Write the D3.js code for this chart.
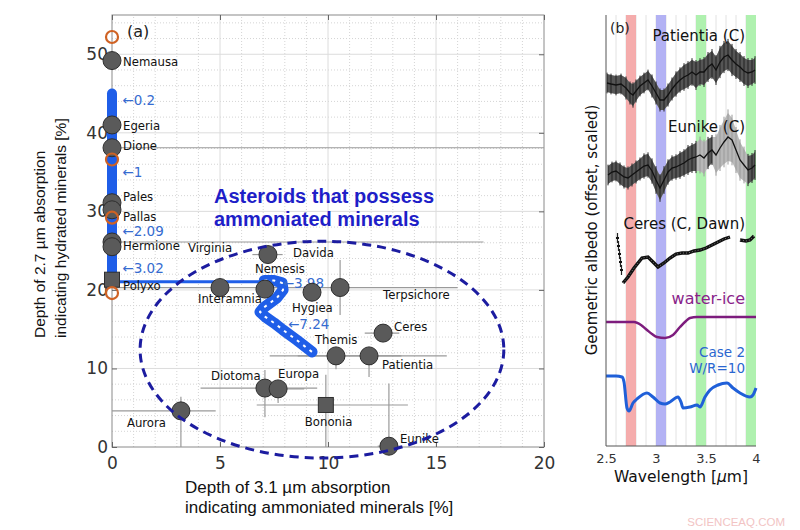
<!DOCTYPE html>
<html>
<head>
<meta charset="utf-8">
<script src="https://cdn.jsdelivr.net/npm/d3@7"></script>
<style>
  body { margin: 0; background: #fff; }
  text { font-family: "DejaVu Sans", sans-serif; }
</style>
</head>
<body>
<script>
// ---------- panel (a) data ----------
var names   = ["Nemausa","Egeria","Dione","Pales","Pallas","Hermione","Virginia","Polyxo","Davida","Interamnia","Nemesis","Hygiea","Terpsichore","Ceres","Themis","Patientia","Diotoma","Europa","Bononia","Aurora","Eunike"];
var depth31 = [0,0,0,0,0,0,0,0,7.22,5.0,7.08,9.26,10.56,12.55,10.37,11.9,7.08,7.69,9.9,3.19,12.82];
var depth27 = [49.2,41.0,38.1,31.1,30.2,26.1,25.5,21.3,24.5,20.3,20.1,19.7,20.3,14.5,11.6,11.6,7.5,7.4,5.35,4.6,0.1];
var squares = ["Polyxo","Bononia"];
// error ranges [lo, hi], null = none
var err31 = [null,null,[0,20],null,null,[0,17.2],null,null,[6.5,7.9],null,null,null,[0,16.0],[11.7,13.3],[7.3,13.4],[8.6,15.5],[4.1,9.5],[7.2,8.9],[6.7,13.7],[0,4.8],[12.3,13.4]];
var err27 = [null,null,null,null,null,null,null,null,null,null,null,null,[16.8,23.8],[13.8,15.3],[9.9,12.3],[8.9,12.7],[3.8,9.8],[5.6,8.5],[0,9.2],[0,6.4],[0,8.1]];

// orange open markers on the hydrated axis
var ringY = [52.2, 36.6, 29.2, 19.6];

// model track (water/rock ratio)
var columnY = [45.0, 21.1];
var bridgeX = [0, 7.2], bridgeY = 21.05;
var trackX = [7.05,7.5,7.87,7.92,7.64,7.0,6.85,7.08,7.5,7.92,8.56,9.26];
var trackY = [21.2,21.2,20.9,20.0,19.0,17.7,17.2,16.6,15.8,14.9,13.6,12.1];
var wrText = ["\u21900.2","\u21901","\u21902.09","\u21903.02","\u21903.98","\u21907.24"];
var wrX    = [0.48,0.48,0.48,0.48,7.9,8.15];
var wrY    = [44.1,35.0,27.5,22.8,20.8,15.6];

// region of ammoniated asteroids
var regionCx = 9.72, regionCy = 12.4, regionRx = 8.42, regionRy = 13.8;

// ---------- panel (b) data ----------
var patLam = [2.51,2.55,2.60,2.65,2.70,2.74,2.77,2.80,2.84,2.88,2.92,2.96,3.00,3.04,3.08,3.12,3.16,3.20,3.24,3.28,3.32,3.36,3.40,3.44,3.48,3.52,3.56,3.60,3.64,3.68,3.72,3.76,3.80,3.84,3.88,3.92,3.96,3.99];
var patVal = [36.3,36.2,36.1,36.2,35.8,35.3,35.1,35.5,36.0,36.3,36.6,36.0,35.3,34.6,34.6,35.1,35.7,36.2,36.6,36.9,37.1,37.4,37.1,37.4,37.4,37.9,38.2,37.6,38.4,38.9,39.1,38.6,38.2,37.9,37.5,37.3,37.4,37.6];
var patErr = [0.9,0.9,0.9,0.9,1.0,1.0,1.1,1.0,0.9,0.9,0.9,1.0,1.0,1.0,1.0,1.0,1.0,1.1,1.1,1.2,1.2,1.2,1.3,1.2,1.3,1.3,1.3,1.3,1.4,1.4,1.4,1.4,1.3,1.3,1.3,1.3,1.2,1.2];

var eunLam = [2.52,2.56,2.60,2.64,2.68,2.72,2.76,2.80,2.84,2.88,2.92,2.96,3.00,3.04,3.08,3.12,3.16,3.20,3.24,3.28,3.32,3.36,3.40,3.44,3.48,3.52,3.56,3.60,3.64,3.68,3.72,3.76,3.80,3.84,3.88,3.92,3.96,3.99];
var eunVal = [27.1,27.4,27.5,27.2,26.9,26.8,27.1,27.4,27.7,28.0,28.1,27.5,26.6,25.8,26.6,27.4,27.8,27.9,28.1,28.3,28.6,28.8,28.9,29.1,28.8,29.3,29.6,29.1,29.8,30.4,30.9,30.6,29.6,28.6,28.1,27.6,27.8,28.1];
var eunErr = [0.9,0.9,0.9,1.0,1.0,1.0,1.0,1.0,1.0,1.1,1.1,1.1,1.2,1.2,1.2,1.1,1.1,1.1,1.2,1.2,1.3,1.3,1.4,1.6,1.6,1.4,1.3,1.8,2.0,2.2,2.4,2.2,2.0,1.8,1.6,1.4,1.3,1.3];
var eunGood = [1,1,1,1,1,1,1,1,1,1,1,1,1,1,1,1,1,1,1,1,1,1,1,0,0,1,1,0,0,0,0,0,0,0,0,1,1,1];

var cerPtLam = [2.615,2.625,2.635,2.645,2.655];
var cerPtVal = [20.8,20.0,19.2,18.4,17.6];
var cerLam = [2.67,2.72,2.78,2.86,2.92,2.97,3.02,3.08,3.14,3.20,3.26,3.32,3.38,3.44,3.50,3.56,3.62,3.68,3.74];
var cerVal = [16.3,16.9,17.8,18.8,18.9,18.4,17.9,18.3,18.8,19.2,19.3,19.3,19.5,19.6,19.8,20.1,20.4,20.7,20.9];
var cerLam2 = [3.84,3.90,3.94,3.98];
var cerVal2 = [20.6,20.5,20.6,21.0];

var iceLam = [2.50,2.78,2.85,2.91,2.96,3.01,3.09,3.17,3.24,3.30,3.34,3.41,4.00];
var iceVal = [12.4,12.4,12.1,11.6,11.2,10.9,10.8,11.1,11.9,12.5,12.8,12.9,12.9];

var caseLam = [2.50,2.60,2.66,2.68,2.71,2.73,2.77,2.81,2.91,2.97,3.04,3.09,3.14,3.22,3.25,3.27,3.34,3.41,3.44,3.49,3.54,3.62,3.71,3.77,3.84,3.94,3.97,4.00];
var caseVal = [7.0,7.0,6.9,6.4,3.8,3.5,4.3,4.7,5.3,4.9,4.3,4.2,4.4,4.9,4.4,3.8,3.9,4.1,3.9,4.9,5.6,6.1,6.3,5.8,5.3,4.9,5.1,5.8];

var bandLo    = [2.70, 3.00, 3.40, 3.90];
var bandHi    = [2.80, 3.10, 3.50, 4.00];
var bandColor = ["#f4a3a3", "#abaaf3", "#a6f0a6", "#a6f0a6"];

// label placement (pixel offsets from the marker)
var labelOff = {
  Nemausa:[11,1], Egeria:[11,1], Dione:[11,-2], Pales:[11,-6], Pallas:[11,7],
  Hermione:[11,4], Virginia:[76,1], Polyxo:[11,6], Davida:[25,-2], Nemesis:[-10,-20],
  Interamnia:[-22,11], Hygiea:[-20,16], Terpsichore:[43,7], Ceres:[11,-6],
  Themis:[-21,-16], Patientia:[13,9], Diotoma:[-54,-12], Europa:[0,-15],
  Bononia:[-21,17], Aurora:[-54,12], Eunike:[11,-7]
};

var svg = d3.select("body").append("svg")
  .attr("width", 800).attr("height", 530);

// =================== panel (a) ===================
var x = d3.scaleLinear().domain([0, 20]).range([112, 544]);
var y = d3.scaleLinear().domain([0, 55]).range([447, 15]);

var ga = svg.append("g");

// minor dotted grid
ga.selectAll(".mx").data(d3.range(1, 20).filter(function(d){ return d % 5 != 0; }))
  .enter().append("line")
  .attr("x1", function(d){ return x(d); }).attr("x2", function(d){ return x(d); })
  .attr("y1", y(0)).attr("y2", y(55))
  .attr("stroke", "#d4d4d4").attr("stroke-dasharray", "1,2");
ga.selectAll(".my").data(d3.range(2, 55, 2).filter(function(d){ return d % 10 != 0; }))
  .enter().append("line")
  .attr("x1", x(0)).attr("x2", x(20))
  .attr("y1", function(d){ return y(d); }).attr("y2", function(d){ return y(d); })
  .attr("stroke", "#d4d4d4").attr("stroke-dasharray", "1,2");
// major grid
ga.selectAll(".gx").data([5, 10, 15]).enter().append("line")
  .attr("x1", function(d){ return x(d); }).attr("x2", function(d){ return x(d); })
  .attr("y1", y(0)).attr("y2", y(55))
  .attr("stroke", "#dcdcdc");
ga.selectAll(".gy").data([10, 20, 30, 40, 50]).enter().append("line")
  .attr("x1", x(0)).attr("x2", x(20))
  .attr("y1", function(d){ return y(d); }).attr("y2", function(d){ return y(d); })
  .attr("stroke", "#dcdcdc");

// box + inward ticks
ga.append("rect").attr("x", x(0)).attr("y", y(55))
  .attr("width", x(20) - x(0)).attr("height", y(0) - y(55))
  .attr("fill", "none").attr("stroke", "#8a8a8a");

function styleAxis(g) {
  g.select(".domain").remove();
  g.selectAll(".tick line").attr("stroke", "#666");
  g.selectAll(".tick text").attr("fill", "#333").style("font-size", "17px")
    .style("font-family", "DejaVu Sans, sans-serif");
}
ga.append("g").attr("transform", "translate(0," + y(0) + ")")
  .call(d3.axisBottom(x).tickValues([0,5,10,15,20]).tickSize(-5).tickPadding(10))
  .call(styleAxis);
ga.append("g").attr("transform", "translate(0," + y(55) + ")")
  .call(d3.axisTop(x).tickValues([0,5,10,15,20]).tickSize(-5).tickFormat(""))
  .call(styleAxis);
ga.append("g").attr("transform", "translate(" + x(0) + ",0)")
  .call(d3.axisLeft(y).tickValues([0,10,20,30,40,50]).tickSize(-5).tickPadding(4))
  .call(styleAxis);
ga.append("g").attr("transform", "translate(" + x(20) + ",0)")
  .call(d3.axisRight(y).tickValues([0,10,20,30,40,50]).tickSize(-5).tickFormat(""))
  .call(styleAxis);

// error bars
var idx = d3.range(names.length);
ga.selectAll(".ex").data(idx.filter(function(i){ return err31[i]; })).enter().append("line")
  .attr("x1", function(i){ return x(err31[i][0]); })
  .attr("x2", function(i){ return x(err31[i][1]); })
  .attr("y1", function(i){ return y(depth27[i]); })
  .attr("y2", function(i){ return y(depth27[i]); })
  .attr("stroke", "#9a9a9a").attr("stroke-width", 1.2);
ga.selectAll(".ey").data(idx.filter(function(i){ return err27[i]; })).enter().append("line")
  .attr("x1", function(i){ return x(depth31[i]); })
  .attr("x2", function(i){ return x(depth31[i]); })
  .attr("y1", function(i){ return y(err27[i][0]); })
  .attr("y2", function(i){ return y(err27[i][1]); })
  .attr("stroke", "#9a9a9a").attr("stroke-width", 1.2);

// model track
var blue = "#1f5ee8";
ga.append("line")
  .attr("x1", x(bridgeX[0])).attr("x2", x(bridgeX[1]))
  .attr("y1", y(bridgeY)).attr("y2", y(bridgeY))
  .attr("stroke", blue).attr("stroke-width", 3);
ga.append("line")
  .attr("x1", x(0)).attr("x2", x(0))
  .attr("y1", y(columnY[0])).attr("y2", y(columnY[1]))
  .attr("stroke", blue).attr("stroke-width", 10).attr("stroke-linecap", "round");
var track = d3.line().x(function(d){ return x(d[0]); }).y(function(d){ return y(d[1]); });
var trackPts = trackX.map(function(v, i){ return [v, trackY[i]]; });
ga.append("path").attr("d", track(trackPts))
  .attr("fill", "none").attr("stroke", blue).attr("stroke-width", 11)
  .attr("stroke-linecap", "round").attr("stroke-linejoin", "round");
ga.append("path").attr("d", track(trackPts))
  .attr("fill", "none").attr("stroke", "#fff").attr("stroke-width", 2)
  .attr("stroke-dasharray", "3,5").attr("stroke-linejoin", "round");

ga.selectAll(".wr").data(wrText).enter().append("text")
  .attr("x", function(d, i){ return x(wrX[i]); })
  .attr("y", function(d, i){ return y(wrY[i]); })
  .attr("dy", "0.35em")
  .attr("fill", "#356bd0").style("font-size", "13.5px")
  .text(function(d){ return d; });

// asteroid markers
var pts = ga.selectAll(".pt").data(idx).enter();
pts.filter(function(i){ return squares.indexOf(names[i]) < 0; }).append("circle")
  .attr("cx", function(i){ return x(depth31[i]); })
  .attr("cy", function(i){ return y(depth27[i]); })
  .attr("r", 9)
  .attr("fill", "#5a5a5a").attr("stroke", "#2e2e2e").attr("stroke-width", 1);
pts.filter(function(i){ return squares.indexOf(names[i]) >= 0; }).append("rect")
  .attr("x", function(i){ return x(depth31[i]) - 7.5; })
  .attr("y", function(i){ return y(depth27[i]) - 7.5; })
  .attr("width", 15).attr("height", 15)
  .attr("fill", "#5a5a5a").attr("stroke", "#2e2e2e").attr("stroke-width", 1);

ga.selectAll(".ring").data(ringY).enter().append("circle")
  .attr("cx", x(0)).attr("cy", function(d){ return y(d); })
  .attr("r", 6).attr("fill", "none")
  .attr("stroke", "#cf6224").attr("stroke-width", 2.2);

// asteroid names
ga.selectAll(".nm").data(idx).enter().append("text")
  .attr("x", function(i){ return x(depth31[i]) + labelOff[names[i]][0]; })
  .attr("y", function(i){ return y(depth27[i]) + labelOff[names[i]][1]; })
  .attr("dy", "0.35em")
  .attr("fill", "#111").style("font-size", "11.7px")
  .text(function(i){ return names[i]; });

// ammoniated region
ga.append("ellipse")
  .attr("cx", x(regionCx)).attr("cy", y(regionCy))
  .attr("rx", x(regionCx + regionRx) - x(regionCx))
  .attr("ry", y(regionCy) - y(regionCy + regionRy))
  .attr("fill", "none").attr("stroke", "#1c1ca0").attr("stroke-width", 3)
  .attr("stroke-dasharray", "9,6");
var reg = ga.append("text").attr("x", 214).attr("y", 203)
  .attr("fill", "#1e1ec8").style("font-family", "Liberation Sans, Arial, sans-serif")
  .style("font-weight", "bold").style("font-size", "20px");
reg.append("tspan").attr("x", 214).text("Asteroids that possess");
reg.append("tspan").attr("x", 214).attr("dy", 23).text("ammoniated minerals");

ga.append("text").attr("x", 127).attr("y", 37).style("font-size", "16px")
  .attr("fill", "#222").text("(a)");

// axis titles
var xt = ga.append("text").attr("y", 493).attr("fill", "#111")
  .style("font-family", "Liberation Sans, Arial, sans-serif").style("font-size", "17px");
xt.append("tspan").attr("x", 185).text("Depth of 3.1 \u00b5m absorption");
xt.append("tspan").attr("x", 185).attr("dy", 20).text("indicating ammoniated minerals [%]");
var yt = ga.append("text").attr("transform", "translate(45,338) rotate(-90)").attr("fill", "#111")
  .style("font-family", "Liberation Sans, Arial, sans-serif").style("font-size", "15.5px");
yt.append("tspan").attr("x", 0).text("Depth of 2.7 \u00b5m absorption");
yt.append("tspan").attr("x", 0).attr("dy", 21).text("indicating hydrated minerals [%]");

// =================== panel (b) ===================
var xb = d3.scaleLinear().domain([2.5, 4]).range([606, 756]);
var yb = d3.scaleLinear().domain([0, 43.1]).range([446, 15]);
var gb = svg.append("g");

gb.selectAll(".vg").data(d3.range(26, 40).map(function(d){ return d / 10; })).enter().append("line")
  .attr("x1", function(d){ return xb(d); }).attr("x2", function(d){ return xb(d); })
  .attr("y1", yb(0)).attr("y2", yb(43.1))
  .attr("stroke", "#e2e2e2");

gb.selectAll(".band").data(bandLo).enter().append("rect")
  .attr("x", function(d){ return xb(d); })
  .attr("width", function(d, i){ return xb(bandHi[i]) - xb(d); })
  .attr("y", yb(43.1)).attr("height", yb(0) - yb(43.1))
  .attr("fill", function(d, i){ return bandColor[i]; }).attr("opacity", 0.9);

function drawSpec(lam, val, err, good, bandFill, barCol, lineW) {
  var pts = lam.map(function(l, i){ return {l: l, v: val[i], e: err[i], g: good ? good[i] : 1}; });
  var area = d3.area().x(function(d){ return xb(d.l); })
    .y0(function(d){ return yb(d.v - d.e); }).y1(function(d){ return yb(d.v + d.e); });
  gb.append("path").attr("d", area(pts)).attr("fill", "#b8b8b8");
  gb.append("path").attr("d", area.defined(function(d){ return d.g; })(pts)).attr("fill", bandFill);
  gb.selectAll(null).data(pts).enter().append("line")
    .attr("x1", function(d){ return xb(d.l); }).attr("x2", function(d){ return xb(d.l); })
    .attr("y1", function(d){ return yb(d.v - d.e * 1.15); })
    .attr("y2", function(d){ return yb(d.v + d.e * 1.15); })
    .attr("stroke", function(d){ return d.g ? barCol : "#9a9a9a"; }).attr("stroke-width", 1);
  gb.append("path")
    .attr("d", d3.line().x(function(d){ return xb(d.l); }).y(function(d){ return yb(d.v); })(pts))
    .attr("fill", "none").attr("stroke", "#111").attr("stroke-width", lineW);
}
drawSpec(patLam, patVal, patErr, null, "#555", "#222", 1.3);
drawSpec(eunLam, eunVal, eunErr, eunGood, "#555", "#222", 1.3);

// Ceres (Dawn)
gb.selectAll(".cp").data(cerPtLam).enter().append("line")
  .attr("x1", function(d){ return xb(d); }).attr("x2", function(d){ return xb(d); })
  .attr("y1", function(d, i){ return yb(cerPtVal[i] - 0.5); })
  .attr("y2", function(d, i){ return yb(cerPtVal[i] + 0.5); })
  .attr("stroke", "#222").attr("stroke-width", 1.2);
gb.selectAll(".cd").data(cerPtLam).enter().append("rect")
  .attr("x", function(d){ return xb(d) - 1.5; })
  .attr("y", function(d, i){ return yb(cerPtVal[i]) - 1; })
  .attr("width", 3).attr("height", 2).attr("fill", "#111");
[[cerLam, cerVal], [cerLam2, cerVal2]].forEach(function(s) {
  var p = s[0].map(function(l, i){ return [l, s[1][i]]; });
  gb.append("path")
    .attr("d", d3.line().x(function(d){ return xb(d[0]); }).y(function(d){ return yb(d[1]); })(p))
    .attr("fill", "none").attr("stroke", "#111").attr("stroke-width", 3.4);
  gb.append("path")
    .attr("d", d3.line().x(function(d){ return xb(d[0]); }).y(function(d){ return yb(d[1]); })(p))
    .attr("fill", "none").attr("stroke", "#777").attr("stroke-width", 1)
    .attr("stroke-dasharray", "1,2");
});

// water ice
gb.append("path")
  .attr("d", d3.line().curve(d3.curveMonotoneX)
    .x(function(d){ return xb(d[0]); }).y(function(d){ return yb(d[1]); })
    (iceLam.map(function(l, i){ return [l, iceVal[i]]; })))
  .attr("fill", "none").attr("stroke", "#7d1c7d").attr("stroke-width", 2.5);

// Case 2 model
gb.append("path")
  .attr("d", d3.line().curve(d3.curveMonotoneX)
    .x(function(d){ return xb(d[0]); }).y(function(d){ return yb(d[1]); })
    (caseLam.map(function(l, i){ return [l, caseVal[i]]; })))
  .attr("fill", "none").attr("stroke", "#1f5fd8").attr("stroke-width", 3);

// axes
gb.append("line").attr("x1", xb(2.5)).attr("x2", xb(2.5)).attr("y1", yb(0)).attr("y2", yb(43.1))
  .attr("stroke", "#555");
gb.append("line").attr("x1", xb(2.5)).attr("x2", xb(4)).attr("y1", yb(0)).attr("y2", yb(0))
  .attr("stroke", "#555");
gb.append("g").attr("transform", "translate(0," + yb(0) + ")")
  .call(d3.axisBottom(xb).tickValues([2.5, 3, 3.5, 4]).tickSize(0).tickPadding(8)
    .tickFormat(d3.format("~g")))
  .call(function(g) {
    g.select(".domain").remove();
    g.selectAll(".tick text").attr("fill", "#333").style("font-size", "13px")
      .style("font-family", "DejaVu Sans, sans-serif");
  });

// texts
gb.append("text").attr("x", 610).attr("y", 33).style("font-size", "14px").attr("fill", "#222").text("(b)");
gb.selectAll(".st").data(["Patientia (C)", "Eunike (C)", "Ceres (C, Dawn)"]).enter().append("text")
  .attr("x", 745).attr("y", function(d, i){ return [41, 132, 229][i]; })
  .attr("text-anchor", "end").style("font-size", "15px").attr("fill", "#111")
  .text(function(d){ return d; });
gb.append("text").attr("x", 745).attr("y", 304).attr("text-anchor", "end")
  .style("font-size", "16px").attr("fill", "#8a1f8a").text("water-ice");
gb.append("text").attr("x", 745).attr("y", 357).attr("text-anchor", "end")
  .style("font-size", "13.5px").attr("fill", "#2a66d0").text("Case 2");
gb.append("text").attr("x", 745).attr("y", 373).attr("text-anchor", "end")
  .style("font-size", "13.5px").attr("fill", "#2a66d0").text("W/R=10");

var wl = gb.append("text").attr("x", 681).attr("y", 482).attr("text-anchor", "middle")
  .style("font-size", "15.5px").attr("fill", "#111");
wl.append("tspan").text("Wavelength [");
wl.append("tspan").style("font-style", "italic").text("\u00b5");
wl.append("tspan").text("m]");

gb.append("text").attr("transform", "translate(597,230) rotate(-90)")
  .attr("text-anchor", "middle").style("font-size", "15px").attr("fill", "#111")
  .text("Geometric albedo (offset, scaled)");

svg.append("text").attr("x", 785).attr("y", 526).attr("text-anchor", "end")
  .style("font-family", "Liberation Sans, Arial, sans-serif").style("font-size", "11.5px")
  .attr("fill", "#f2c4c4").text("SCIENCEAQ.COM");
</script>
</body>
</html>
